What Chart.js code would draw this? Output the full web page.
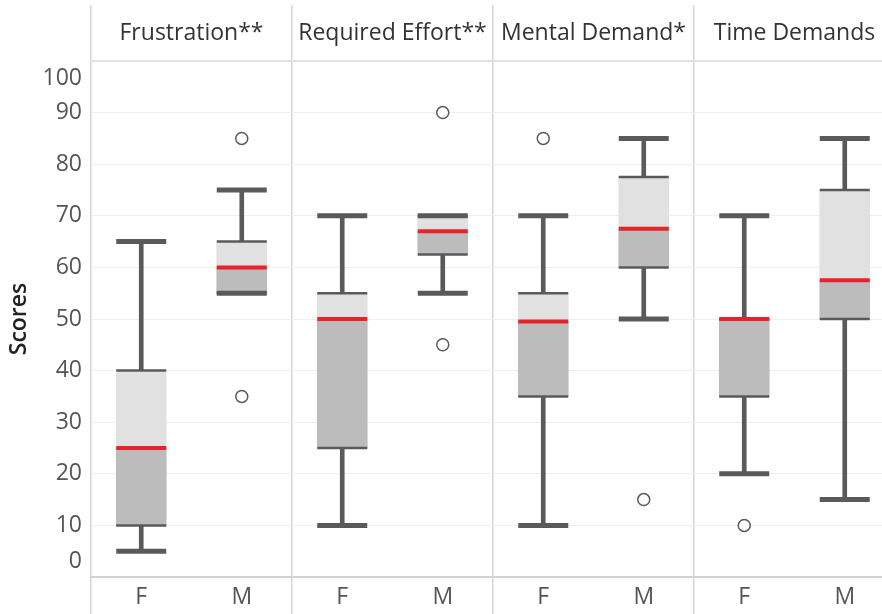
<!DOCTYPE html>
<html>
  <head>
    <meta charset="utf-8">
    <title>Scores por genero</title>
    <style>
      html, body { margin: 0; padding: 0; background: #fff; overflow: hidden; }
      #chart1 { display: block; }
    </style>
  </head>
  <body>
    <canvas id="chart1" width="895" height="614"></canvas>

    <script src="https://cdn.jsdelivr.net/npm/chart.js@4.4.0/dist/chart.umd.min.js"></script>
    <script>
      // datos //
      const panels = ['Frustration**', 'Required Effort**', 'Mental Demand*', 'Time Demands']
      const labels = ['F', 'M', 'F', 'M', 'F', 'M', 'F', 'M']
      const whiskerLow  = [5, 55, 10, 55, 10, 50, 20, 15]
      const q1          = [10, 55, 25, 62.5, 35, 60, 35, 50]
      const median      = [25, 60, 50, 67, 49.5, 67.5, 50, 57.5]
      const q3          = [40, 65, 55, 70, 55, 77.5, 50, 75]
      const whiskerHigh = [65, 75, 70, 70, 70, 85, 70, 85]
      const outlierHigh = [null, 85, null, 90, 85, null, null, null]
      const outlierLow  = [null, 35, null, 45, null, 15, 10, null]

      const gris = '#5a5a5a'
      Chart.defaults.font.family = "'Open Sans', sans-serif"
      Chart.defaults.color = '#555'

      function floating(a, b) {
        return a.map((v, i) => [v, b[i]])
      }
      function marca(data, width, color, order) {
        return {
          type: 'line',
          data: data,
          showLine: false,
          pointStyle: 'line',
          pointRadius: 25,
          pointHoverRadius: 25,
          pointBorderWidth: width,
          pointBorderColor: color,
          order: order
        }
      }

      var ctx = document.getElementById('chart1').getContext('2d')
      var chart1 = new Chart(ctx, {
        type: 'bar',
        data: {
          labels: labels,
          datasets: [
            // bigote
            { data: floating(whiskerLow, whiskerHigh), backgroundColor: gris, barThickness: 4, grouped: false, order: 10 },
            // caja
            { data: floating(q1, median), backgroundColor: '#bcbcbc', barThickness: 50, grouped: false, order: 9 },
            { data: floating(median, q3), backgroundColor: '#e1e1e1', barThickness: 50, grouped: false, order: 9 },
            marca(q1, 2.5, gris, 6),
            marca(q3, 2.5, gris, 6),
            marca(whiskerLow, 5, gris, 5),
            marca(whiskerHigh, 5, gris, 5),
            marca(median, 4, '#e8212a', 3),
            // outliers
            { type: 'line', data: outlierHigh, showLine: false, pointStyle: 'circle', pointRadius: 6, pointBorderWidth: 1.5, pointBackgroundColor: '#fff', pointBorderColor: gris, order: 1 },
            { type: 'line', data: outlierLow, showLine: false, pointStyle: 'circle', pointRadius: 6, pointBorderWidth: 1.5, pointBackgroundColor: '#fff', pointBorderColor: gris, order: 1 }
          ]
        },
        options: {
          animation: false,
          responsive: false,
          layout: { padding: 0, autoPadding: false },
          plugins: {
            legend: { display: false },
            tooltip: { enabled: false }
          },
          scales: {
            x: {
              position: 'bottom',
              offset: true,
              afterFit: (s) => { s.height = 37 },
              grid: {
                offset: true,
                drawOnChartArea: false,
                tickLength: 37,
                lineWidth: 1.5,
                color: (c) => c.index % 2 === 0 ? '#d6d6d6' : 'rgba(0,0,0,0)'
              },
              border: { color: '#d2d2d2', width: 2 },
              ticks: { padding: -30, color: '#555', font: { size: 23 }, maxRotation: 0, autoSkip: false }
            },
            x2: {
              type: 'category',
              labels: panels,
              position: 'top',
              offset: true,
              afterFit: (s) => { s.height = 61 },
              grid: { offset: true, tickLength: 56, lineWidth: 1.5, color: '#d6d6d6' },
              border: { color: '#e2e2e2', width: 2 },
              ticks: { padding: -42, color: '#333', font: { size: 23 }, maxRotation: 0, autoSkip: false }
            },
            y: {
              min: 0,
              max: 100,
              afterFit: (s) => {
                s.width = 91
                s.paddingTop = 0
                s.paddingBottom = 0
              },
              border: { display: false },
              grid: {
                drawTicks: false,
                color: (c) => (c.tick && c.tick.value > 0 && c.tick.value < 100) ? '#efefef' : 'rgba(0,0,0,0)'
              },
              ticks: {
                stepSize: 10,
                padding: 9,
                autoSkip: false,
                color: '#555',
                // 100 y 0 van corridos hacia adentro
                callback: (v) => v === 100 ? ['', '100'] : v === 0 ? ['0', ''] : String(v),
                font: (c) => {
                  let lh = 1.2
                  if (c.tick && c.tick.value === 100) lh = '34px'
                  if (c.tick && c.tick.value === 0) lh = '31px'
                  return { size: 23, lineHeight: lh }
                }
              },
              title: {
                display: true,
                text: 'Scores',
                color: '#222',
                font: { size: 23, weight: '600' },
                padding: { top: 6, bottom: 0 }
              }
            }
          }
        }
      })
    </script>
  </body>
</html>
